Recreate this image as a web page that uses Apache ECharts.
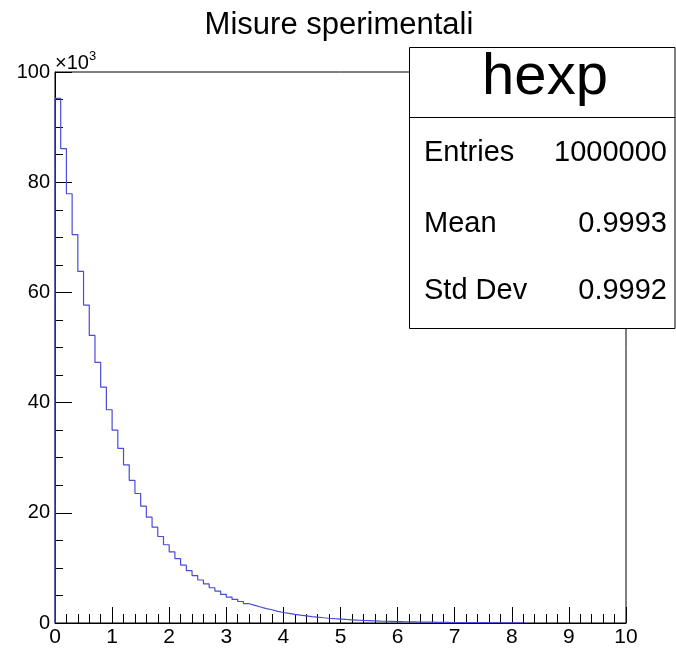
<!DOCTYPE html>
<html>
<head>
<meta charset="utf-8">
<script src="https://cdn.jsdelivr.net/npm/echarts@6/dist/echarts.min.js"></script>
<style>
html,body{margin:0;padding:0;background:#fff;}
#c{width:676px;height:649px;}
</style>
</head>
<body>
<div id="c"></div>
<script>
// ---- data ----
const chartTitle = 'Misure sperimentali';
const histName = 'hexp';
const statLabels = ['Entries', 'Mean', 'Std Dev'];
const statValues = ['1000000', '0.9993', '0.9992'];
const xMin = 0, xMax = 10, binWidth = 0.1;
const yMin = 0, yMax = 100000;
const xTicks = [0,1,2,3,4,5,6,7,8,9,10];
const yTickLabels = ['0','20','40','60','80','100'];
// bin contents (bins of width 0.1 starting at 0)
const counts = [
  95200, 86100, 77900, 70500, 63800, 57700, 52200, 47300, 42800, 38700,
  35000, 31700, 28700, 25900, 23500, 21200, 19200, 17400, 15700, 14200,
  12900, 11700, 10500, 9500, 8600, 7800, 7100, 6400, 5800, 5200,
  4700, 4300, 3900, 3500, 3200, 2900, 2600, 2400, 2100, 1900,
  1740, 1570, 1420, 1290, 1160, 1050, 950, 860, 780, 710,
  640, 580, 520, 470, 430, 390, 350, 320, 290, 260,
  235, 213, 192, 174, 157, 142, 129, 117, 105, 95,
  86, 78, 70, 64, 58, 52, 47, 43, 39, 35,
  32, 29
];

// build step outline from bin left edges
const outline = [[xMin, 0]];
counts.forEach((c, i) => outline.push([xMin + i * binWidth, c]));
outline.push([xMin + counts.length * binWidth, 0]);

const FONT = '"Liberation Sans", Arial, Helvetica, sans-serif';
const chart = echarts.init(document.getElementById('c'), null, {renderer: 'canvas'});
chart.setOption({
  animation: false,
  backgroundColor: '#fff',
  grid: {left: 55, right: 50, top: 72, bottom: 26, show: true, borderColor: '#000', borderWidth: 1, backgroundColor: 'transparent'},
  xAxis: {
    type: 'value', min: xMin, max: xMax, interval: 1,
    axisLine: {show: true, onZero: false, lineStyle: {color: '#000', width: 1}},
    axisTick: {show: true, inside: true, length: 16, lineStyle: {color: '#000', width: 1}},
    minorTick: {show: true, splitNumber: 5, length: 9, lineStyle: {color: '#000', width: 1}},
    splitLine: {show: false},
    axisLabel: {color: '#000', fontSize: 21, fontFamily: FONT, margin: 4,
      formatter: v => { const i = xTicks.indexOf(Math.round(v)); return i >= 0 ? String(xTicks[i]) : ''; }}
  },
  yAxis: {
    type: 'value', min: yMin, max: yMax, interval: 20000,
    axisLine: {show: true, onZero: false, lineStyle: {color: '#000', width: 1}},
    axisTick: {show: true, inside: true, length: 17, lineStyle: {color: '#000', width: 1}},
    minorTick: {show: true, splitNumber: 4, length: 8, lineStyle: {color: '#000', width: 1}},
    splitLine: {show: false},
    axisLabel: {color: '#000', fontSize: 20, fontFamily: FONT, margin: 5,
      formatter: v => yTickLabels[Math.round(v / 20000)] || ''}
  },
  series: [{
    type: 'line', data: outline, step: 'end', showSymbol: false, symbol: 'none',
    lineStyle: {color: '#4b4bd9', width: 1.2}, z: 1
  }],
  graphic: [
    {type: 'text', x: 339, y: 25, z: 10, style: {text: chartTitle, font: '31px ' + FONT, fill: '#000', align: 'center', verticalAlign: 'middle'}},
    {type: 'text', x: 55, y: 63, z: 10, style: {text: '×10', font: '20px ' + FONT, fill: '#000', align: 'left', verticalAlign: 'middle'}},
    {type: 'text', x: 89, y: 56, z: 10, style: {text: '3', font: '13px ' + FONT, fill: '#000', align: 'left', verticalAlign: 'middle'}},
    {type: 'rect', z: 20, shape: {x: 409.5, y: 47.5, width: 265.5, height: 281}, style: {fill: '#fff', stroke: '#000', lineWidth: 1}},
    {type: 'line', z: 21, shape: {x1: 409.5, y1: 117.5, x2: 675, y2: 117.5}, style: {stroke: '#000', lineWidth: 1}},
    {type: 'text', z: 22, x: 545, y: 78, style: {text: histName, font: '58px ' + FONT, fill: '#000', align: 'center', verticalAlign: 'middle'}},
    {type: 'text', z: 22, x: 424, y: 153, style: {text: statLabels[0], font: '29px ' + FONT, fill: '#000', align: 'left', verticalAlign: 'middle'}},
    {type: 'text', z: 22, x: 667, y: 153, style: {text: statValues[0], font: '29px ' + FONT, fill: '#000', align: 'right', verticalAlign: 'middle'}},
    {type: 'text', z: 22, x: 424, y: 224, style: {text: statLabels[1], font: '29px ' + FONT, fill: '#000', align: 'left', verticalAlign: 'middle'}},
    {type: 'text', z: 22, x: 667, y: 224, style: {text: statValues[1], font: '29px ' + FONT, fill: '#000', align: 'right', verticalAlign: 'middle'}},
    {type: 'text', z: 22, x: 424, y: 291, style: {text: statLabels[2], font: '29px ' + FONT, fill: '#000', align: 'left', verticalAlign: 'middle'}},
    {type: 'text', z: 22, x: 667, y: 291, style: {text: statValues[2], font: '29px ' + FONT, fill: '#000', align: 'right', verticalAlign: 'middle'}}
  ]
});
</script>
</body>
</html>
